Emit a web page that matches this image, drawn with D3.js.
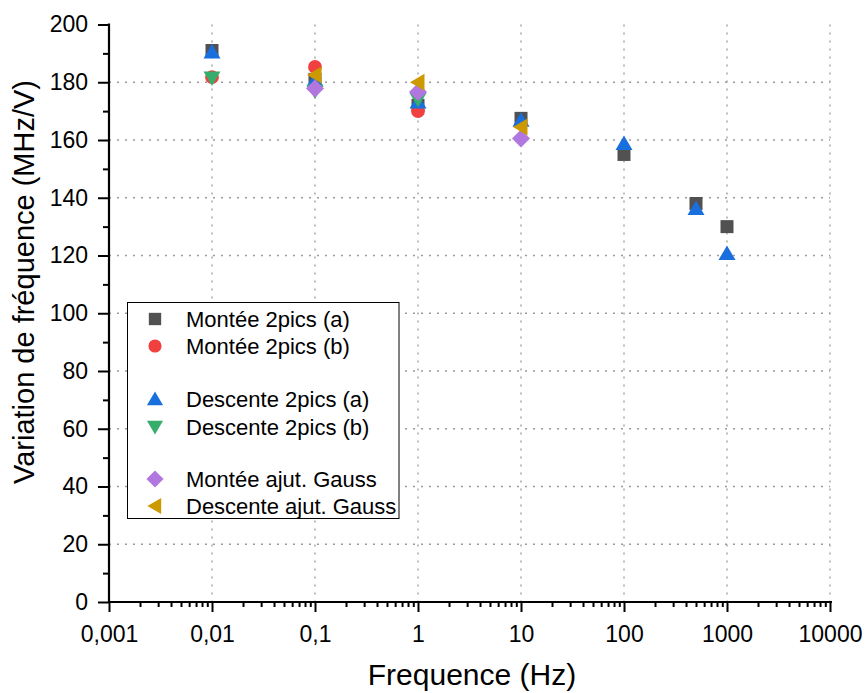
<!DOCTYPE html>
<html><head><meta charset="utf-8">
<script src="https://cdn.jsdelivr.net/npm/d3@7"></script>
<style>body{margin:0;background:#fff}svg{display:block}text{font-family:"Liberation Sans",Arial,sans-serif}</style>
</head><body><svg id="c" width="867" height="693"></svg>
<script>
const xTickValues = [0.001, 0.01, 0.1, 1, 10, 100, 1000, 10000];
const xTickLabels = ["0,001", "0,01", "0,1", "1", "10", "100", "1000", "10000"];
const yTickValues = [0, 20, 40, 60, 80, 100, 120, 140, 160, 180, 200];

const monteeA_x = [0.01, 0.1, 1, 10, 100, 500, 1000];
const monteeA_y = [191, 181, 172, 167.5, 155, 138, 130];
const monteeB_x = [0.01, 0.1, 1];
const monteeB_y = [181.8, 185.3, 170];
const descenteA_x = [0.01, 0.1, 1, 10, 100, 500, 1000];
const descenteA_y = [190.5, 180.7, 173.2, 166.8, 158.8, 136.3, 120.7];
const descenteB_x = [0.01, 0.1, 1];
const descenteB_y = [181.5, 177, 174];
const monteeG_x = [0.1, 1, 10];
const monteeG_y = [177.8, 176.6, 160.5];
const descenteG_x = [0.1, 1, 10];
const descenteG_y = [182.5, 180, 164.5];

const seriesNames = ["Montée 2pics (a)", "Montée 2pics (b)", "Descente 2pics (a)", "Descente 2pics (b)", "Montée ajut. Gauss", "Descente ajut. Gauss"];
const seriesColors = ["#515151", "#F14040", "#1A6FDF", "#37AD6B", "#B177DE", "#CC9900"];
const seriesShapes = ["square", "circle", "up", "down", "diamond", "left"];
const seriesX = [monteeA_x, monteeB_x, descenteA_x, descenteB_x, monteeG_x, descenteG_x];
const seriesY = [monteeA_y, monteeB_y, descenteA_y, descenteB_y, monteeG_y, descenteG_y];

const svg = d3.select("#c");
const L = 109, R = 830, T = 24.5, B = 602;
const x = d3.scaleLog().domain([0.001, 10000]).range([L, R]);
const y = d3.scaleLinear().domain([0, 200]).range([B, T]);

// grid
const g = svg.append("g");
g.selectAll(".vg").data(xTickValues.slice(1)).enter().append("line")
  .attr("x1", d => x(d)).attr("x2", d => x(d)).attr("y1", T).attr("y2", B)
  .attr("stroke", "#9a9a9a").attr("stroke-width", 1.3).attr("stroke-dasharray", "2,6");
g.selectAll(".hg").data(yTickValues.slice(1, -1)).enter().append("line")
  .attr("x1", L).attr("x2", R).attr("y1", d => y(d)).attr("y2", d => y(d))
  .attr("stroke", "#9a9a9a").attr("stroke-width", 1.3).attr("stroke-dasharray", "2,6");

// x axis
const minorX = [];
for (let e = -3; e < 4; e++) for (let m = 2; m <= 9; m++) minorX.push(m * Math.pow(10, e));
const xAxis = svg.append("g").attr("transform", `translate(0,${B})`);
xAxis.call(d3.axisBottom(x).tickValues(xTickValues).tickFormat((d, i) => xTickLabels[i]).tickSize(10).tickPadding(13.5));
xAxis.append("g").call(d3.axisBottom(x).tickValues(minorX).tickFormat("").tickSize(5));
xAxis.selectAll("path.domain").remove();
xAxis.selectAll("line").attr("stroke", "#000").attr("stroke-width", 2);
xAxis.selectAll("text").attr("font-size", 23).attr("fill", "#000");
svg.append("line").attr("x1", L - 1).attr("x2", R + 2).attr("y1", B).attr("y2", B).attr("stroke", "#000").attr("stroke-width", 2.2);

// y axis
const minorY = d3.range(10, 200, 20);
const yAxis = svg.append("g").attr("transform", `translate(${L},0)`);
yAxis.call(d3.axisLeft(y).tickValues(yTickValues).tickSize(11).tickPadding(10));
yAxis.append("g").call(d3.axisLeft(y).tickValues(minorY).tickFormat("").tickSize(6));
yAxis.selectAll("path.domain").remove();
yAxis.selectAll("line").attr("stroke", "#000").attr("stroke-width", 2);
yAxis.selectAll("text").attr("font-size", 23).attr("fill", "#000");
svg.append("line").attr("x1", L).attr("x2", L).attr("y1", T - 1).attr("y2", B + 1).attr("stroke", "#000").attr("stroke-width", 2.2);

// titles
svg.append("text").attr("x", 472).attr("y", 685).attr("text-anchor", "middle").attr("font-size", 30).text("Frequence (Hz)");
svg.append("text").attr("transform", `translate(34,282) rotate(-90)`).attr("text-anchor", "middle").attr("font-size", 29).text("Variation de fréquence (MHz/V)");

// markers
function shapePath(s) {
  if (s === "square") return "M-6.5,-6.5H6.5V6.5H-6.5Z";
  if (s === "circle") return d3.symbol(d3.symbolCircle, 150)();
  if (s === "up") return "M0,-8L8.5,6.5H-8.5Z";
  if (s === "down") return "M0,8L8.5,-6.5H-8.5Z";
  if (s === "diamond") return "M0,-9L9,0L0,9L-9,0Z";
  if (s === "left") return "M-8,0L6.5,-8.5V8.5Z";
}
seriesNames.forEach((n, i) => {
  svg.append("g").selectAll("path").data(seriesX[i].map((v, j) => [v, seriesY[i][j]])).enter().append("path")
    .attr("d", shapePath(seriesShapes[i]))
    .attr("transform", d => `translate(${x(d[0])},${y(d[1])})`)
    .attr("fill", seriesColors[i]);
});

// legend
const leg = svg.append("g");
leg.append("rect").attr("x", 127.5).attr("y", 302.5).attr("width", 271.5).attr("height", 216)
  .attr("fill", "#fff").attr("stroke", "#000").attr("stroke-width", 1);
const legY = [319, 346, 399, 427, 479, 506];
seriesNames.forEach((n, i) => {
  leg.append("path").attr("d", shapePath(seriesShapes[i])).attr("transform", `translate(155,${legY[i]}) scale(0.95)`).attr("fill", seriesColors[i]);
  leg.append("text").attr("x", 186).attr("y", legY[i] + 8).attr("font-size", 22).text(n);
});
</script></body></html>
